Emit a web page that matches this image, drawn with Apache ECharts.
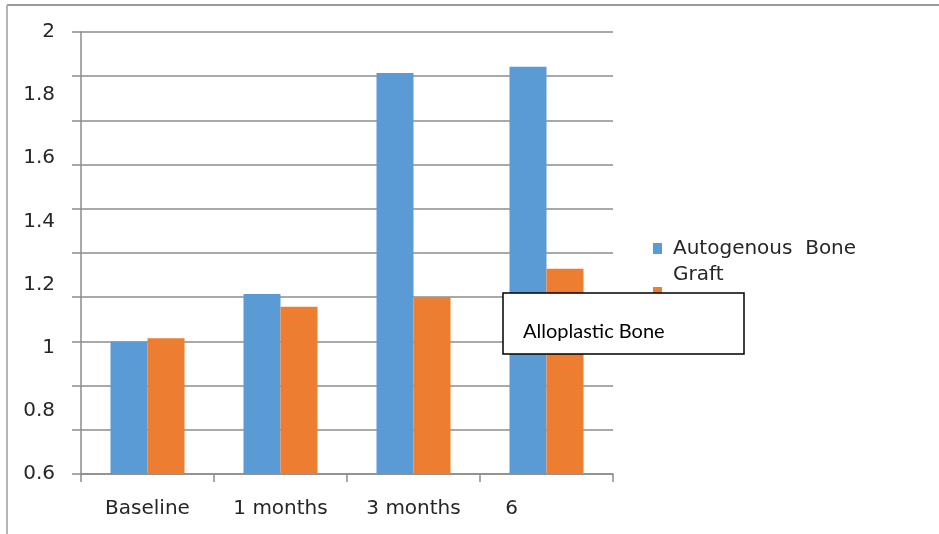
<!DOCTYPE html>
<html>
<head>
<meta charset="utf-8">
<script src="https://cdn.jsdelivr.net/npm/echarts@6/dist/echarts.min.js"></script>
<style>
  html, body { margin: 0; padding: 0; background: #ffffff; }
  #chart { width: 939px; height: 534px; }
</style>
</head>
<body>
<div id="chart"></div>
<script>
// Bone density over follow-up visits, two graft materials
const categories = ['Baseline', '1 months', '3 months', '6'];
const seriesNames = ['Autogenous Bone Graft', 'Alloplastic Bone'];
const autogenous = [1.02, 1.17, 1.87, 1.89];
const alloplastic = [1.03, 1.13, 1.16, 1.25];
const valueTicks = { min: 0.6, max: 2, step: 0.2 };

const FONT = 'DejaVu Sans';
const TEXT = '#262626';
const GRID_GRAY = '#8c8c8c';

const chart = echarts.init(document.getElementById('chart'), null, { renderer: 'canvas' });

chart.setOption({
  animation: false,
  backgroundColor: '#ffffff',
  grid: { left: 81, right: 326, top: 32, bottom: 60, containLabel: false },
  xAxis: {
    type: 'category',
    data: categories.map((c, i) => i === categories.length - 1
      ? { value: c, textStyle: { padding: [0, 70, 0, 0] } }
      : c),
    axisLine: { show: true, lineStyle: { color: GRID_GRAY, width: 1.5 } },
    axisTick: { show: true, alignWithLabel: false, length: 8, lineStyle: { color: GRID_GRAY, width: 1.5 } },
    axisLabel: { color: TEXT, fontFamily: FONT, fontSize: 20, margin: 25 },
    splitLine: { show: false }
  },
  yAxis: [
    {
      // ruled lines: ten even bands across the value range
      type: 'value', min: 0, max: 10, interval: 1, position: 'left',
      axisLine: { show: true, lineStyle: { color: GRID_GRAY, width: 1.5 } },
      axisTick: { show: true, length: 9, lineStyle: { color: GRID_GRAY, width: 1.5 } },
      axisLabel: { show: false },
      splitLine: { show: true, lineStyle: { color: GRID_GRAY, width: 1.5 } }
    },
    {
      type: 'value', min: valueTicks.min, max: valueTicks.max, interval: valueTicks.step, position: 'left',
      axisLine: { show: false }, axisTick: { show: false }, splitLine: { show: false },
      axisLabel: { color: TEXT, fontFamily: FONT, fontSize: 20, margin: 26 }
    }
  ],
  legend: [
    {
      orient: 'vertical', left: 653, top: 209.5, padding: 0, itemGap: 0,
      itemWidth: 9, itemHeight: 11, selectedMode: false,
      data: [{ name: seriesNames[0], icon: 'rect' }],
      // blank first line keeps the swatch level with the first text line
      formatter: () => '\nAutogenous  Bone\nGraft',
      textStyle: { color: TEXT, fontFamily: FONT, fontSize: 20, lineHeight: 26, padding: [0, 0, 0, 6] }
    },
    {
      orient: 'vertical', left: 653, top: 287, padding: 0, itemGap: 0,
      itemWidth: 9, itemHeight: 10, selectedMode: false,
      data: [{ name: seriesNames[1], icon: 'rect' }],
      formatter: () => '',
      textStyle: { fontSize: 1 }
    }
  ],
  series: [
    {
      name: seriesNames[0], type: 'bar', yAxisIndex: 1, data: autogenous,
      barWidth: 37, barGap: '0%', itemStyle: { color: '#5B9BD5' }
    },
    {
      name: seriesNames[1], type: 'bar', yAxisIndex: 1, data: alloplastic,
      barWidth: 37, barGap: '0%', itemStyle: { color: '#ED7D31' }
    }
  ],
  graphic: [
    { type: 'line', z: 50, shape: { x1: 7, y1: 5, x2: 939, y2: 5 }, style: { stroke: '#9a9a9a', lineWidth: 2 } },
    { type: 'line', z: 50, shape: { x1: 7, y1: 5, x2: 7, y2: 534 }, style: { stroke: '#b4b4b4', lineWidth: 2 } },
    { type: 'rect', z: 100, shape: { x: 503, y: 293, width: 241, height: 61 },
      style: { fill: '#ffffff', stroke: '#000000', lineWidth: 1.5 } },
    { type: 'text', z: 101, x: 523, y: 332,
      style: { text: seriesNames[1], fill: '#000000', font: '20px Lato', verticalAlign: 'middle' } }
  ]
});
</script>
</body>
</html>
